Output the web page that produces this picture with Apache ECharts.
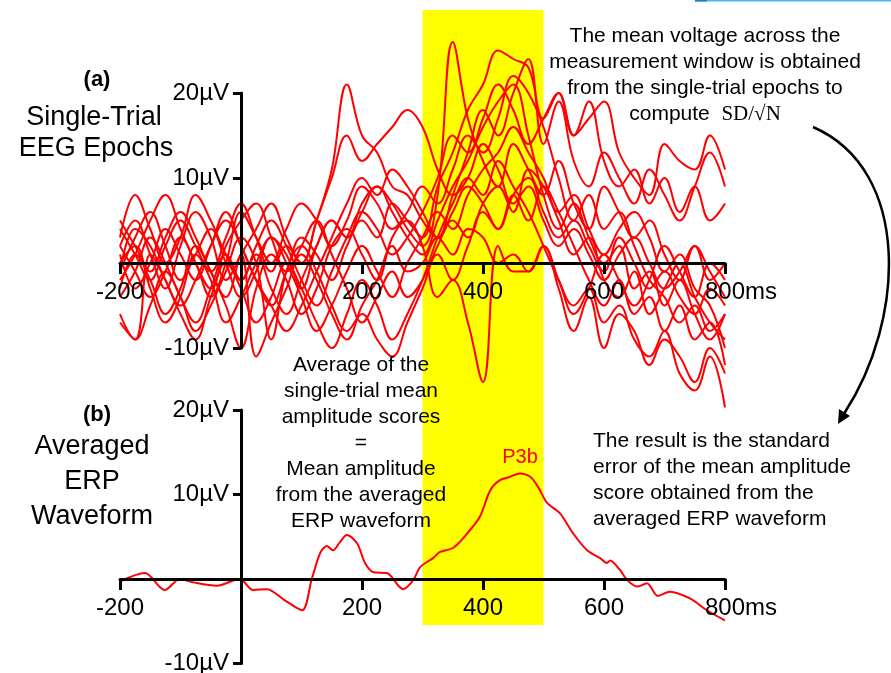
<!DOCTYPE html>
<html><head><meta charset="utf-8">
<script src="https://cdn.jsdelivr.net/npm/echarts@6/dist/echarts.min.js"></script>
<style>html,body{margin:0;padding:0;background:#fff}#c{width:891px;height:673px}</style>
</head><body><div id="c"></div><script>
// ---- data ----
const times = [-200,-175,-150,-125,-100,-75,-50,-25,0,25,50,75,100,125,150,175,200,225,250,275,300,325,350,375,400,425,450,475,500,525,550,575,600,625,650,675,700,725,750,775,800];
const trial1  = [2,5,1,-3,2,6,3,-2,1,4,7,3,0,5,11,21,15,13,9,8,5,3,6,9,7,4,8,10,6,3,5,2,-1,3,0,-3,-1,-4,-6,-3,-5];
const trial2  = [-1,3,6,2,-2,1,4,0,-4,-1,3,1,-3,2,5,3,6,9,7,4,2,8,26,17,12,9,14,11,8,12,7,4,9,6,3,5,1,-2,2,-1,-4];
const trial3  = [-3,1,-2,-6,-3,2,-1,-5,-10,-3,1,-2,-6,-3,2,4,1,-2,3,5,2,-4,-2,-7,-14,2,-1,-1,2,-3,-8,-4,-10,-6,-8,-12,-9,-11,-14,-10,-13];
const trial4  = [4,1,-2,2,5,2,-1,3,7,3,-1,2,0,5,10,15,12,14,16,18,16,11,8,10,14,11,7,9,5,2,4,1,-2,1,3,0,-3,-1,2,-2,0];
const trial5  = [1,-3,0,4,1,-2,2,6,2,-2,-5,-1,3,1,-2,2,5,3,7,5,3,9,13,18,21,25,24,23,17,20,15,17,19,13,10,8,14,12,11,15,11];
const trial6  = [-4,-1,3,0,-4,-7,-3,1,-2,2,5,2,-2,-5,-1,3,6,4,1,3,6,10,15,13,17,21,18,14,17,20,15,19,12,9,11,7,10,6,9,5,7];
const trial7  = [-7,-9,1,-2,-6,-9,-4,0,-3,-7,-4,0,-3,-7,-10,-6,-2,-5,-9,-6,-2,3,7,10,8,12,9,6,2,-2,-5,-3,-7,-5,-9,-11,-8,-13,-15,-11,-17];
const trial8  = [3,8,4,0,3,8,5,1,-2,1,-3,-6,-2,2,5,3,7,9,6,3,1,5,9,12,16,19,21,15,8,4,7,3,0,2,-3,-1,-5,-2,-6,-9,-6];
const trial9  = [0,2,-3,-7,-4,1,-2,-7,-4,0,3,0,-4,-8,-5,-1,2,-1,-4,0,3,6,4,8,11,13,16,13,10,6,8,4,1,4,6,3,-1,1,-3,-5,-10];
const trial10 = [-2,1,5,8,4,0,-3,2,5,7,3,-1,2,5,1,-3,-7,-4,-1,-4,-2,2,5,3,7,9,6,11,9,5,1,3,-2,-4,-1,-6,-3,0,-4,-7,-9];
const trial11 = [5,2,-1,3,6,3,-1,-4,1,-11,-7,-3,1,-2,-6,-9,-5,-2,2,-1,0,3,1,4,3,0,1,-1,2,-2,-6,-3,1,-2,-5,-2,2,-1,-4,0,-2];
const trial12 = [-6,-9,-5,-1,-4,-8,-5,-1,3,0,-9,-1,2,-1,-5,-8,-6,-9,-11,-7,-3,1,-2,2,6,4,8,5,9,6,2,-2,-5,-2,-6,-4,-8,-5,-9,-7,-12];
const trial13 = [2,-1,-4,-1,3,0,-4,0,6,3,0,4,7,5,2,5,9,7,4,6,9,7,11,15,13,17,22,20,16,10,5,8,4,6,2,-2,-4,-7,-5,-8,-6];
const trial14 = [-1,4,2,-2,-5,-2,2,5,2,-2,-5,-8,-5,-1,3,7,10,8,11,9,6,3,8,13,18,15,20,24,14,19,12,9,13,10,7,11,8,5,9,13,9];
const trials = [trial1,trial2,trial3,trial4,trial5,trial6,trial7,trial8,trial9,trial10,trial11,trial12,trial13,trial14];

const avgTimes  = [-200,-159,-126,-101,-79,-40,-2,20,43,70,101,117,131,142,152,163,175,192,205,219,241,268,285,296,318,329,351,374,395,412,428,445,461,478,491,506,527,549,572,593,605,610,626,638,655,671,689,709,742,770,800];
const avgValues = [-0.3,0.7,-1.3,0,-0.4,-0.8,0,-1.3,-1.2,-2.4,-3.7,0,3.1,3.9,3.4,4.3,5.2,4.2,1.9,0.8,0.7,-1.2,-0.1,1.4,2.5,3.2,3.7,5.4,7.4,10.5,11.7,12.1,12.5,12.1,10.9,9.0,7.8,5.4,3.4,2.5,1.9,2.2,1.1,-0.1,-0.9,-0.5,-2.0,-1.5,-2.3,-3.7,-4.9];

const xTickValues = [-200, 0, 200, 400, 600, 800];
const yTickValues = [-10, 0, 10, 20];
const windowStart = 300, windowEnd = 500;
const peakLabel = 'P3b';

// ---- chart ----
const FONT = 'Liberation Sans, Arial, sans-serif';
const RED = '#ff0000';
const X_MIN = xTickValues[0], X_MAX = xTickValues[xTickValues.length - 1];
const Y_MIN = yTickValues[0], Y_MAX = yTickValues[yTickValues.length - 1];
const GRID_LEFT = 120, GRID_RIGHT = 166, GRID_W = 891 - GRID_LEFT - GRID_RIGHT;
const grids = [
  { left: GRID_LEFT, right: GRID_RIGHT, top: 93, height: 255, outerBoundsMode: 'none', containLabel: false },
  { left: GRID_LEFT, right: GRID_RIGHT, top: 410, height: 253.5, outerBoundsMode: 'none', containLabel: false },
  { left: GRID_LEFT, right: GRID_RIGHT, top: 10, height: 615, outerBoundsMode: 'none', containLabel: false }
];
// place each axis at the other axis' zero (offset derived from the scale)
function xAxisFor(gi) {
  const h = grids[gi].height;
  const zeroFromBottom = (0 - Y_MIN) / (Y_MAX - Y_MIN) * h;
  return {
    gridIndex: gi, type: 'value', min: X_MIN, max: X_MAX, interval: 200, position: 'bottom',
    offset: -zeroFromBottom,
    axisLine: { show: true, onZero: false, lineStyle: { color: '#000', width: 3 } },
    axisTick: { show: true, length: 11, lineStyle: { color: '#000', width: 3 } },
    splitLine: { show: false },
    axisLabel: {
      color: '#000', fontSize: 24, fontFamily: FONT, margin: 17,
      formatter: v => v === 0 ? '' : (v === 800 ? '{n|800}{u|ms}' : String(v)),
      rich: { n: { fontSize: 24, fontFamily: FONT, color: '#000', padding: [0,0,0,32] }, u: { fontSize: 24, fontFamily: FONT, color: '#000' } }
    },
    z: 3
  };
}
function yAxisFor(gi) {
  const zeroFromLeft = (0 - X_MIN) / (X_MAX - X_MIN) * GRID_W;
  return {
    gridIndex: gi, type: 'value', min: Y_MIN, max: Y_MAX, interval: 10, position: 'left',
    offset: -zeroFromLeft,
    axisLine: { show: true, onZero: false, lineStyle: { color: '#000', width: 3 } },
    axisTick: { show: true, length: 8, lineStyle: { color: '#000', width: 3 } },
    splitLine: { show: false },
    axisLabel: { color: '#000', fontSize: 24, fontFamily: FONT, margin: 12,
      formatter: v => v === 0 ? '' : v + 'µV' },
    z: 3
  };
}

const series = [];
series.push({
  type: 'line', xAxisIndex: 2, yAxisIndex: 2, data: [[windowStart, 0], [windowEnd, 0]],
  showSymbol: false, symbol: 'none', lineStyle: { width: 0, opacity: 0 }, silent: true, z: -1,
  markArea: { silent: true, itemStyle: { color: '#ffff00', opacity: 1 }, data: [[{ xAxis: windowStart }, { xAxis: windowEnd }]] }
});
trials.forEach(tr => {
  series.push({
    type: 'line', xAxisIndex: 0, yAxisIndex: 0, clip: false, smooth: 0.4,
    symbol: 'none', data: times.map((t, i) => [t, tr[i]]),
    lineStyle: { color: RED, width: 2 }, z: 2
  });
});
series.push({
  type: 'line', xAxisIndex: 1, yAxisIndex: 1, clip: false, smooth: 0.3, symbol: 'none',
  data: avgTimes.map((t, i) => [t, avgValues[i]]),
  lineStyle: { color: RED, width: 2 }, z: 2
});

const T = (x, y, text, size, bold) => ({
  type: 'text', x: x, y: y, z: 100,
  style: { text: text, font: (bold ? 'bold ' : '') + size + 'px ' + FONT, fill: '#000', align: 'center', verticalAlign: 'middle' }
});

const graphic = [
  T(97, 80, '(a)', 22, true),
  T(94, 118, 'Single-Trial', 27),
  T(96, 149, 'EEG Epochs', 27),
  T(97, 415, '(b)', 22, true),
  { type: 'text', x: 92, y: 482, z: 100, style: { text: 'Averaged\nERP\nWaveform', font: '27px ' + FONT, fill: '#000', align: 'center', verticalAlign: 'middle', lineHeight: 35 } },
  { type: 'text', x: 361, y: 443, z: 100, style: { text: 'Average of the\nsingle-trial mean\namplitude scores\n=\nMean amplitude\nfrom the averaged\nERP waveform', font: '21px ' + FONT, fill: '#000', align: 'center', verticalAlign: 'middle', lineHeight: 26 } },
  { type: 'text', x: 705, y: 75, z: 100, style: {
      text: 'The mean voltage across the\nmeasurement window is obtained\nfrom the single-trial epochs to\ncompute  {m|SD/√N}',
      font: '21px ' + FONT, fill: '#000', align: 'center', verticalAlign: 'middle', lineHeight: 26,
      rich: { m: { fontFamily: 'Liberation Serif, DejaVu Serif, serif', fontSize: 21, fill: '#000', lineHeight: 26 } } } },
  { type: 'text', x: 593, y: 480, z: 100, style: { text: 'The result is the standard\nerror of the mean amplitude\nscore obtained from the\naveraged ERP waveform', font: '21px ' + FONT, fill: '#000', align: 'left', verticalAlign: 'middle', lineHeight: 26 } },
  { type: 'text', x: 520, y: 457, z: 100, style: { text: peakLabel, font: '20px ' + FONT, fill: RED, align: 'center', verticalAlign: 'middle' } },
  { type: 'bezierCurve', z: 100, shape: { x1: 813, y1: 127, cpx1: 912, cpy1: 170, cpx2: 905, cpy2: 320, x2: 844.5, y2: 413 }, style: { stroke: '#000', lineWidth: 2.5, fill: null } },
  { type: 'polygon', z: 100, shape: { points: [[838, 424], [850, 416], [839, 409]] }, style: { fill: '#000' } },
  { type: 'line', z: 100, shape: { x1: 695, y1: 0.5, x2: 891, y2: 0.5 }, style: { stroke: '#4fb4e4', lineWidth: 2 } },
  { type: 'line', z: 101, shape: { x1: 695, y1: 0.5, x2: 707, y2: 0.5 }, style: { stroke: '#1a7fc0', lineWidth: 2 } }
];

const chart = echarts.init(document.getElementById('c'), null, { renderer: 'canvas' });
chart.setOption({
  animation: false,
  backgroundColor: '#fff',
  grid: grids,
  xAxis: [xAxisFor(0), xAxisFor(1), { gridIndex: 2, type: 'value', min: X_MIN, max: X_MAX, show: false }],
  yAxis: [yAxisFor(0), yAxisFor(1), { gridIndex: 2, type: 'value', min: 0, max: 1, show: false }],
  series: series,
  graphic: graphic
});
</script></body></html>
